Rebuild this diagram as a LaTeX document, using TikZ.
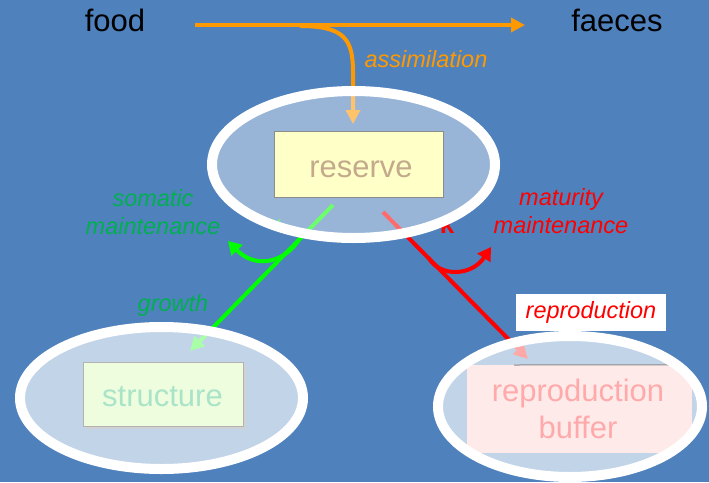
\documentclass[tikz,border=0pt]{standalone}
\usepackage{fontspec}
\setmainfont{Liberation Sans}
\usetikzlibrary{arrows.meta}

\definecolor{bgblue}{RGB}{79,129,189}
\definecolor{flowor}{RGB}{255,153,0}
\definecolor{flowgr}{RGB}{0,255,0}
\definecolor{flowrd}{RGB}{255,0,0}
\definecolor{txtgr}{RGB}{0,176,80}
\definecolor{resfill}{RGB}{255,255,200}
\definecolor{restxt}{RGB}{196,170,140}
\definecolor{strfill}{RGB}{237,253,222}
\definecolor{strtxt}{RGB}{170,228,200}
\definecolor{buffill}{RGB}{255,234,234}
\definecolor{buftxt}{RGB}{255,170,170}
\definecolor{boxline}{RGB}{140,140,140}

\tikzset{
  flow/.style={line width=4pt, -{Triangle[length=14pt,width=14pt]}},
  branch/.style={line width=4pt, -{Triangle[length=13pt,width=15pt]}},
  rim/.style={draw=white, line width=10pt},
  bigtext/.style={font=\fontsize{31}{38}\selectfont, inner sep=0pt},
  flowlabel/.style={font=\fontsize{23.5}{28.5}\selectfont\itshape, align=center, inner sep=0pt},
  poolbox/.style={inner sep=0pt},
  pooltext/.style={font=\fontsize{31}{37}\selectfont, inner sep=0pt, anchor=base},
}

\begin{document}
\begin{tikzpicture}[x=1pt,y=-1pt]
\fill[bgblue] (0,0) rectangle (709,482);
\useasboundingbox (0,0) rectangle (709,482);

% feeding: food passes by, part is assimilated
\node[bigtext, anchor=base] (food) at (115,31) {food};
\node[bigtext, anchor=base] (faeces) at (617,31) {faeces};
\coordinate (fin) at (195,25);
\coordinate (fout) at (525,25);
\coordinate (asplit) at (300,26);
\coordinate (ain) at (353,124);
\draw[flow, flowor] (fin) -- (fout);
\draw[flow, flowor] (asplit) .. controls (345,26) and (353,40) .. (353,72) -- (ain);
\node[flowlabel, text=flowor, anchor=base] (assim) at (426,67) {assimilation};

% kappa rule symbols, largely covered by the reserve compartment
\node[font=\fontsize{26}{30}\selectfont\bfseries, text=flowrd, inner sep=0pt] (kapR) at (447,227) {κ};
\node[font=\fontsize{20}{24}\selectfont, text=flowgr, inner sep=0pt] (kapG) at (276,225) {κ};

% growth flow with somatic maintenance branch
\coordinate (gstart) at (333,205);
\coordinate (gend) at (190,351);
\coordinate (sbranch) at (300,238);
\coordinate (send) at (228,241);
\draw[flow, flowgr] (gstart) -- (gend);
\draw[branch, flowgr] (sbranch) .. controls (286,262) and (256,270) .. (send);

% reproduction flow with maturity maintenance branch
\coordinate (rstart) at (383,212);
\coordinate (rend) at (528,359);
\coordinate (mbranch) at (428,257);
\coordinate (mend) at (491,247);
\draw[flow, flowrd] (rstart) -- (rend);
\draw[branch, flowrd] (mbranch) .. controls (440,278) and (472,276) .. (mend);

% compartments: translucent fill
\fill[white, fill opacity=0.42] (353.5,164.5) ellipse [x radius=141.5, y radius=73.5];
\fill[white, fill opacity=0.66] (161.5,398) ellipse [x radius=141.5, y radius=71];
\fill[white, fill opacity=0.66] (570,406.5) ellipse [x radius=132, y radius=70.5];

% pools
\node[poolbox, draw=boxline, line width=1pt, fill=resfill,
      minimum width=169pt, minimum height=66pt] (reserve) at (358.5,164) {};
\node[pooltext, text=restxt] (restext) at (361,177) {reserve};
\fill[black!18] (86,365) rectangle (246,429);
\node[poolbox, draw=black!30, line width=1pt, fill=strfill,
      minimum width=160pt, minimum height=64pt] (structure) at (163,394) {};
\node[pooltext, text=strtxt] (strtext) at (162.5,406) {structure};
\begin{scope}
  \clip (570,406.5) ellipse [x radius=132, y radius=70.5];
  \node[poolbox, fill=buffill, minimum width=225pt, minimum height=88pt] (buffer) at (579.5,409) {};
  \draw[boxline, line width=1pt] (514,365) -- (buffer.north east);
\end{scope}
\node[pooltext, text=buftxt] (buftext1) at (578,401) {reproduction};
\node[pooltext, text=buftxt] (buftext2) at (578,438) {buffer};

% compartments: solid white rims over everything inside
\draw[rim] (353.5,164.5) ellipse [x radius=141.5, y radius=73.5];
\draw[rim] (161.5,398) ellipse [x radius=141.5, y radius=71];
\draw[rim] (570,406.5) ellipse [x radius=132, y radius=70.5];

% flow labels
\node[flowlabel, text=txtgr] (soma) at (153,212) {somatic\\maintenance};
\node[flowlabel, text=txtgr, anchor=base] (grow) at (173,311) {growth};
\node[flowlabel, text=flowrd] (matu) at (561,211) {maturity\\maintenance};
\node[fill=white, minimum width=150pt, minimum height=37pt, inner sep=0pt] (repbox) at (591,312.5) {};
\node[flowlabel, text=flowrd] (repro) at (repbox) {reproduction};
\end{tikzpicture}
\end{document}
